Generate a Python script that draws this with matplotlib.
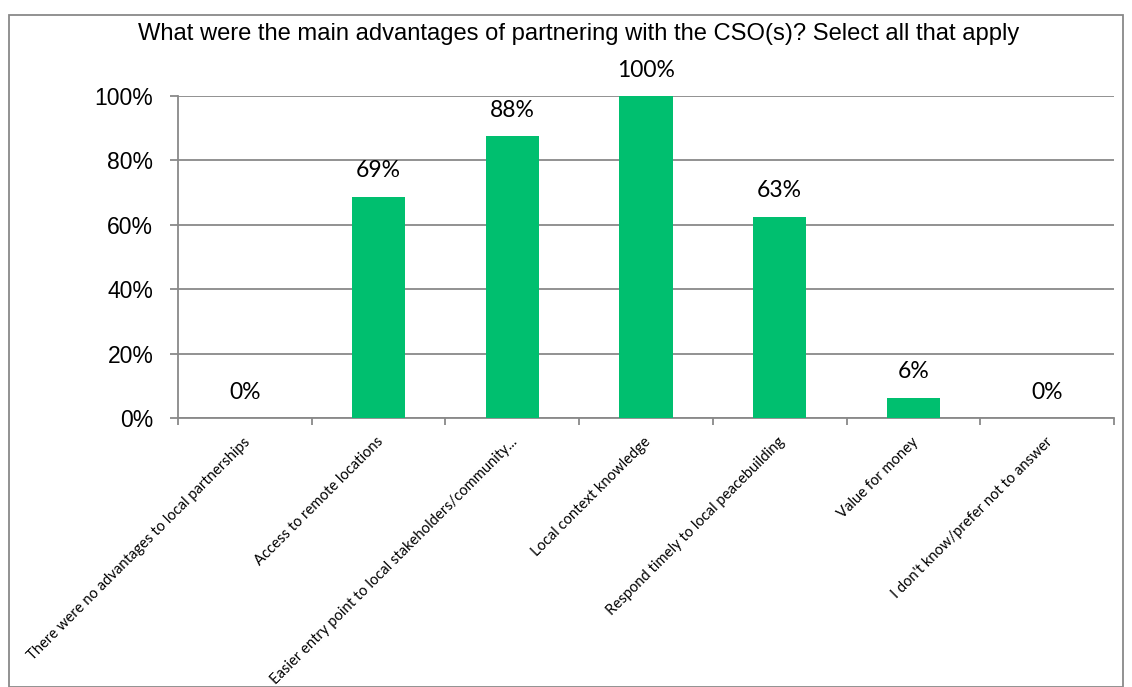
import matplotlib.pyplot as plt
from matplotlib.patches import Rectangle

categories = [
    "There were no advantages to local partnerships",
    "Access to remote locations",
    "Easier entry point to local stakeholders/community...",
    "Local context knowledge",
    "Respond timely to local peacebuilding",
    "Value for money",
    "I don't know/prefer not to answer",
]
values = [0.0, 0.6875, 0.875, 1.0, 0.625, 0.0625, 0.0]
labels = ["0%", "69%", "88%", "100%", "63%", "6%", "0%"]
title = "What were the main advantages of partnering with the CSO(s)? Select all that apply"

W, H = 1132, 687
fig = plt.figure(figsize=(W / 100, H / 100), dpi=100)
ax = fig.add_axes([178 / W, 1 - 418 / H, (1114 - 178) / W, (418 - 96) / H])

grey = "#898989"
fig.patches.append(Rectangle((9 / W, 0.5 / H), (W - 9.5) / W - 9 / W, 1 - 15 / H - 0.5 / H,
                             transform=fig.transFigure, fill=False, edgecolor=grey, linewidth=1.3))

x = range(len(categories))
ax.bar(x, values, width=0.4, color="#00BF6F", zorder=3)

ax.set_xlim(-0.5, len(categories) - 0.5)
ax.set_ylim(0, 1)
ax.set_yticks([0, 0.2, 0.4, 0.6, 0.8, 1.0])
ax.set_yticklabels(["0%", "20%", "40%", "60%", "80%", "100%"], fontsize=16.5, family="Liberation Sans")
ax.yaxis.grid(True, color=grey, linewidth=1.3, zorder=0)
ax.tick_params(axis="y", length=5.8, color=grey, width=1.3, pad=12)

ax.set_xticks(list(x))
ax.set_xticklabels([])
ax.set_xticks([i - 0.5 for i in range(len(categories) + 1)], minor=True)
ax.tick_params(axis="x", which="major", length=0)
ax.tick_params(axis="x", which="minor", length=5, color=grey, width=1.3)

for s in ["top", "right"]:
    ax.spines[s].set_visible(False)
for s in ["left", "bottom"]:
    ax.spines[s].set_color(grey)
    ax.spines[s].set_linewidth(1.3)

# data labels above each bar
for i, (v, lab) in enumerate(zip(values, labels)):
    ax.annotate(lab, (i, v), xytext=(0, 18.7), textcoords="offset points",
                ha="center", va="center", fontsize=16.5, family="Lato")

# rotated category labels
for i, cat in enumerate(categories):
    ax.annotate(cat, (i, 0), xytext=(-1.5, -12), textcoords="offset points",
                ha="right", va="top", rotation=45, rotation_mode="anchor",
                fontsize=10.6, family="Lato")

fig.text(579 / W, 1 - 34 / H, title, ha="center", va="center", fontsize=17.1, family="Liberation Sans")

fig.savefig("out.png", dpi=100)
